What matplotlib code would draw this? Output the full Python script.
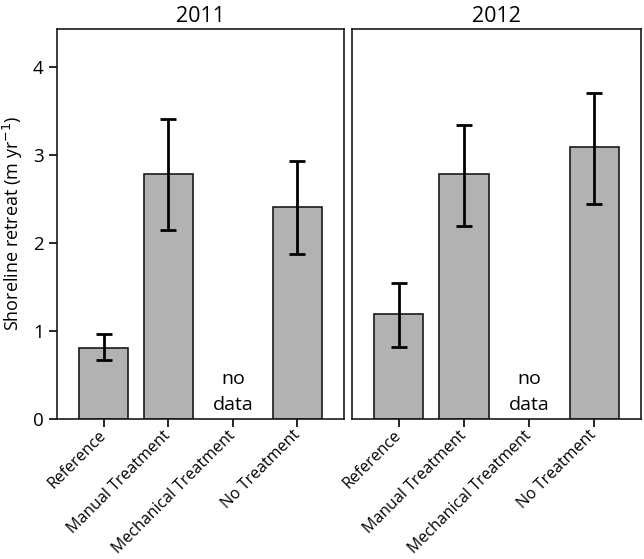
import matplotlib
matplotlib.use("Agg")
import matplotlib.pyplot as plt

plt.rcParams['font.family'] = ['Open Sans', 'DejaVu Sans']

categories = ['Reference', 'Manual Treatment', 'Mechanical Treatment', 'No Treatment']
years = ['2011', '2012']

# mean retreat and error bar ends (None = no data)
mean_2011 = [0.81, 2.78, None, 2.41]
low_2011 = [0.67, 2.15, None, 1.88]
high_2011 = [0.97, 3.41, None, 2.93]

mean_2012 = [1.19, 2.78, None, 3.09]
low_2012 = [0.82, 2.20, None, 2.45]
high_2012 = [1.55, 3.34, None, 3.71]

series = [(mean_2011, low_2011, high_2011), (mean_2012, low_2012, high_2012)]

fig = plt.figure(figsize=(6.44, 5.59), dpi=100)
ax1 = fig.add_axes([57/644, 140/559, 287/644, 390.5/559])
ax2 = fig.add_axes([352/644, 140/559, 289/644, 390.5/559])

for ax, year, (mean, low, high) in zip([ax1, ax2], years, series):
    xs = [i for i, m in enumerate(mean) if m is not None]
    vals = [mean[i] for i in xs]
    yerr = [[mean[i] - low[i] for i in xs], [high[i] - mean[i] for i in xs]]
    ax.bar(xs, vals, width=0.755, color='#b2b2b2', edgecolor='#1a1a1a', linewidth=1.2, zorder=2)
    ax.errorbar(xs, vals, yerr=yerr, fmt='none', ecolor='black', elinewidth=2,
                capsize=6, capthick=2, zorder=3)
    for i, m in enumerate(mean):
        if m is None:
            ax.text(i, 0.45, 'no', ha='center', va='center', fontsize=14)
            ax.text(i, 0.16, 'data', ha='center', va='center', fontsize=14)
    ax.set_xlim(-0.72, 3.72)
    ax.set_ylim(0, 4.44)
    ax.set_xticks(range(len(categories)))
    ax.set_xticklabels(categories, rotation=45, ha='right', va='center',
                       rotation_mode='anchor', fontsize=11.5)
    ax.tick_params(axis='x', direction='out', length=6, width=1.2, pad=4)
    ax.set_title(year, fontsize=15.5, pad=5)
    for s in ax.spines.values():
        s.set_linewidth(1.2)
        s.set_color('#1a1a1a')

ax1.set_yticks([0, 1, 2, 3, 4])
ax1.tick_params(axis='y', direction='out', length=6, width=1.2, labelsize=13.5)
ax1.set_ylabel('Shoreline retreat (m yr$^{-1}$)', fontsize=13, labelpad=6)
ax2.set_yticks([])

fig.savefig('out.png', dpi=100)
